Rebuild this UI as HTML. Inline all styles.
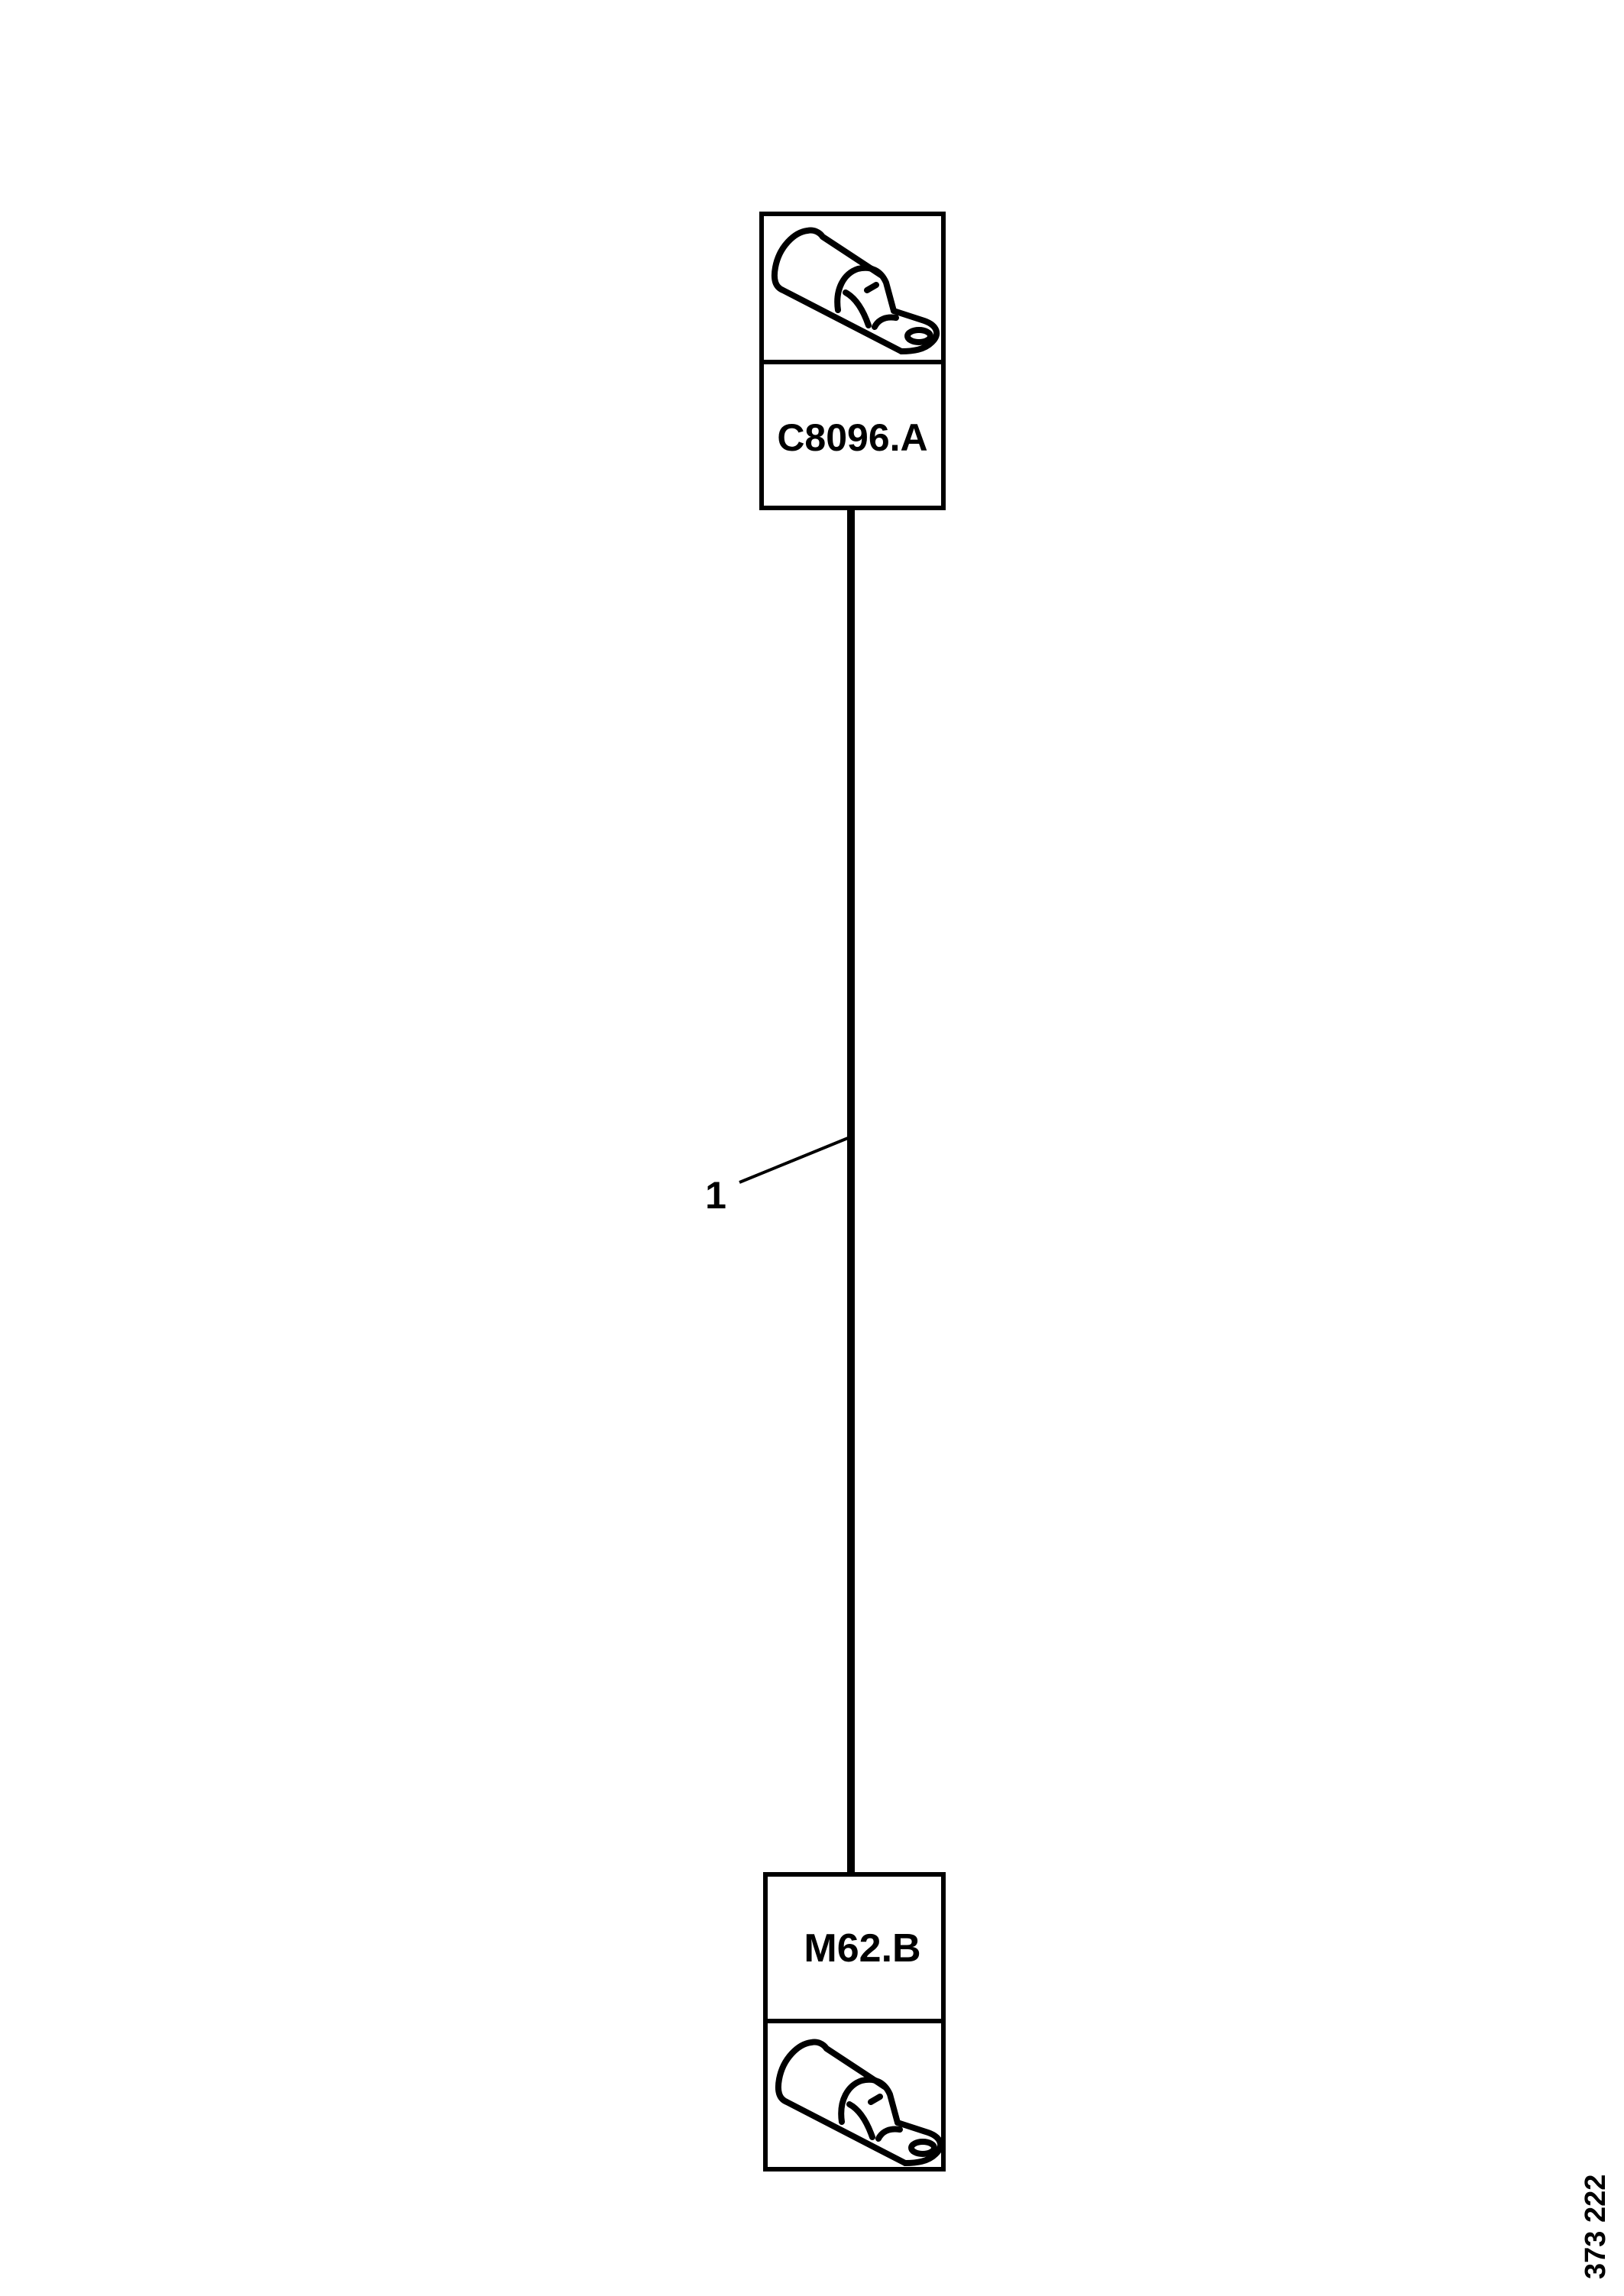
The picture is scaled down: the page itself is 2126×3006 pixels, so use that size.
<!DOCTYPE html>
<html><head><style>
html,body{margin:0;padding:0;background:#fff;}
body{width:2126px;height:3006px;position:relative;overflow:hidden;font-family:"Liberation Sans",sans-serif;}
</style></head><body>
<svg width="2126" height="3006" viewBox="0 0 2126 3006" xmlns="http://www.w3.org/2000/svg" style="position:absolute;left:0;top:0">
<defs>
<g id="lug" fill="none" stroke="#000" stroke-width="8" stroke-linejoin="round" stroke-linecap="round">
  <path d="M62,24 C45,26 25,45 20,72 C17,88 20,98 30,102 L185,182"/>
  <path d="M62,24 C70,22 78,26 82,32 L158,82"/>
  <path d="M102,128 C98,100 110,80 128,74 C145,70 158,76 165,92 L175,129"/>
  <path d="M112,105 C125,112 135,128 142,148"/>
  <path d="M140,102 L152,95"/>
  <path d="M175,129 L215,142 C232,148 236,160 225,170 C215,180 200,182 185,182"/>
  <path d="M150,150 C155,140 165,136 178,138"/>
  <ellipse cx="208" cy="162" rx="15" ry="8"/>
</g>
</defs>
<rect x="997" y="280" width="238" height="385" fill="none" stroke="#000" stroke-width="6"/>
<line x1="997" y1="474" x2="1235" y2="474" stroke="#000" stroke-width="6"/>
<use href="#lug" x="995" y="278"/>
<text x="1116" y="590" font-size="50" font-weight="bold" text-anchor="middle" font-family="Liberation Sans, sans-serif">C8096.A</text>
<rect x="1109" y="667" width="10" height="1785" fill="#000"/>
<line x1="968" y1="1548" x2="1110" y2="1490" stroke="#000" stroke-width="4"/>
<text x="937" y="1582" font-size="50" font-weight="bold" text-anchor="middle">1</text>
<rect x="1002" y="2454" width="233" height="386" fill="none" stroke="#000" stroke-width="6"/>
<line x1="1002" y1="2646" x2="1235" y2="2646" stroke="#000" stroke-width="6"/>
<text x="1129" y="2568" font-size="52" font-weight="bold" text-anchor="middle">M62.B</text>
<use href="#lug" x="1000" y="2650"/>
<text transform="translate(2101,2984) rotate(-90)" font-size="38" font-weight="bold">373 222</text>
</svg>
</body></html>
